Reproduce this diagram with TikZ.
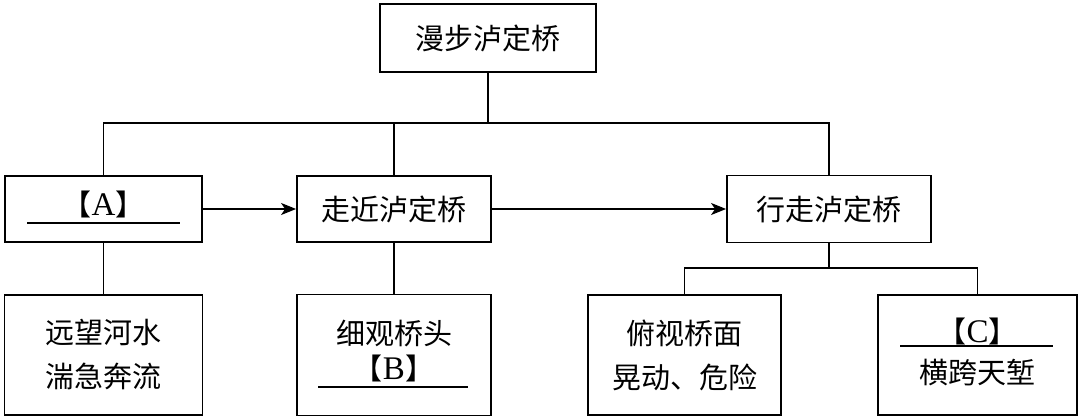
\documentclass[tikz,border=0pt]{standalone}
\usepackage{fontspec}
\setmainfont{Liberation Serif}
\newfontfamily\cjk{Noto Sans CJK SC}
\usetikzlibrary{arrows.meta}
\newcommand\mylat[1]{{\rmfamily\fontsize{33}{44}\selectfont #1}}
\tikzset{
  box/.style={draw, line width=1.8pt, inner sep=0pt, align=center,
    font=\cjk\fontsize{29}{44}\selectfont},
  lbl/.style={inner sep=0pt, align=center, font=\cjk\fontsize{29}{44}\selectfont},
  conn/.style={line width=1.8pt},
  arr/.style={line width=1.8pt, -{Stealth[length=15pt,width=12pt,inset=4pt]}},
  blank/.style={line width=1.8pt}
}
\begin{document}
\begin{tikzpicture}[x=1pt,y=-1pt]
\useasboundingbox (0,0) rectangle (1080,419);
% boxes
\node[box, minimum width=216pt, minimum height=68pt] (top) at (488,38) {漫步泸定桥};
\node[box, minimum width=197pt, minimum height=66pt] (a) at (103.5,209) {};
\node[box, minimum width=194pt, minimum height=66pt] (two) at (394,209) {走近泸定桥};
\node[box, minimum width=204pt, minimum height=67pt] (three) at (829,209) {行走泸定桥};
\node[box, minimum width=198pt, minimum height=120pt] (yuan) at (103.5,355) {远望河水\\湍急奔流};
\node[box, minimum width=194pt, minimum height=121pt] (b) at (394,355) {};
\node[box, minimum width=193pt, minimum height=120pt] (fushi) at (684.5,355) {俯视桥面\\晃动、危险};
\node[box, minimum width=199pt, minimum height=120pt] (c) at (977.5,355) {};
% labels inside A, B, C boxes
\node[lbl] (atext) at (103.5,204) {【\mylat{A}】};
\draw[blank] (27,223) -- (180,223);
\node[lbl] (btext1) at (394,333) {细观桥头};
\node[lbl] (btext2) at (394,368) {【\mylat{B}】};
\draw[blank] (318,387) -- (468,387);
\node[lbl] (ctext1) at (977.5,331) {【\mylat{C}】};
\draw[blank] (900,346) -- (1053,346);
\node[lbl] (ctext2) at (977.5,373) {横跨天堑};
% connectors
\coordinate (j1) at (488,123);
\coordinate (j2) at (829,268);
\draw[conn] (top.south) -- (j1);
\draw[conn] (a.north) |- (three.north |- j1) -- (three.north);
\draw[conn] (two.north) -- (two.north |- j1);
\draw[arr] (a.east) -- (two.west);
\draw[arr] (two.east) -- (three.west);
\draw[conn] (a.south) -- (yuan.north);
\draw[conn] (two.south) -- (b.north);
\draw[conn] (three.south) -- (j2);
\draw[conn] (fushi.north) |- (j2) -| (c.north);
\end{tikzpicture}
\end{document}
